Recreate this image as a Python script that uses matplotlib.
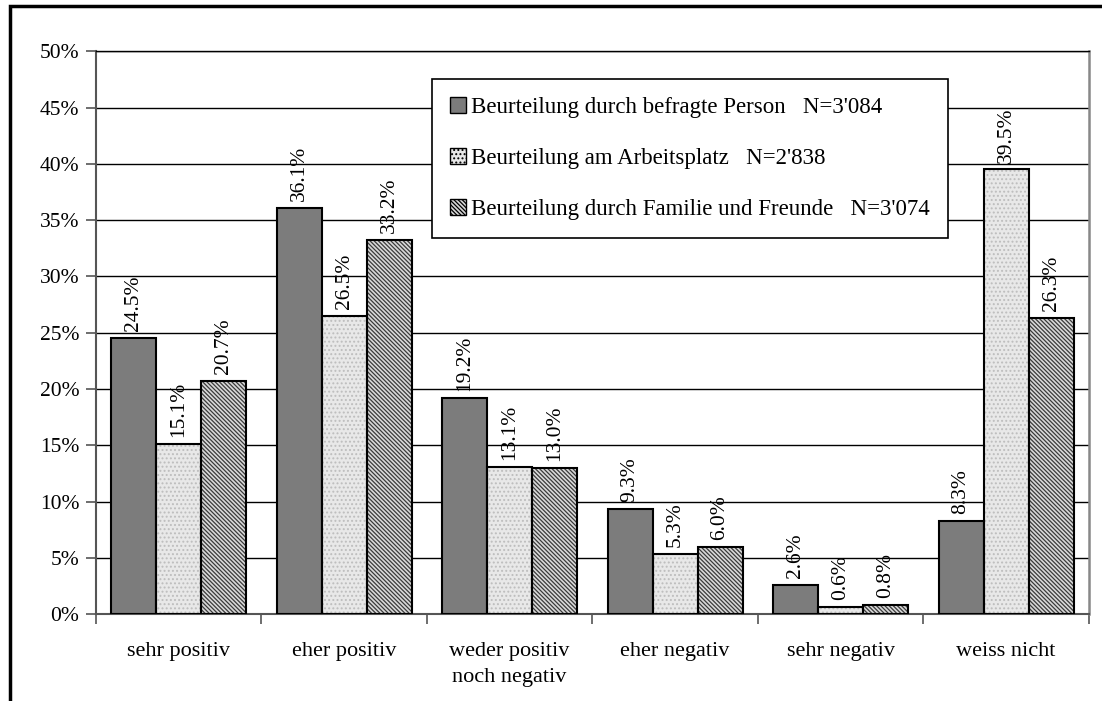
import matplotlib.pyplot as plt
import numpy as np
from matplotlib.patches import Rectangle, Patch

# categories and series values (percent)
categories = ['sehr positiv', 'eher positiv', 'weder positiv\nnoch negativ',
              'eher negativ', 'sehr negativ', 'weiss nicht']
befragte = [24.5, 36.1, 19.2, 9.3, 2.6, 8.3]
arbeitsplatz = [15.1, 26.5, 13.1, 5.3, 0.6, 39.5]
familie = [20.7, 33.2, 13.0, 6.0, 0.8, 26.3]
series_labels = ["Beurteilung durch befragte Person   N=3'084",
                 "Beurteilung am Arbeitsplatz   N=2'838",
                 "Beurteilung durch Familie und Freunde   N=3'074"]

plt.rcParams['font.family'] = ['Liberation Serif', 'DejaVu Serif']
plt.rcParams['hatch.linewidth'] = 0.9

fig = plt.figure(figsize=(11.02, 7.01), dpi=100)
ax = fig.add_axes([0.0871, 0.124, 0.9009, 0.8028])

x = np.arange(len(categories))
w = 0.272
styles = [
    dict(color='#7c7c7c', hatch=None, hcol=None),
    dict(color='#e8e8e8', hatch='....', hcol='#bdbdbd'),
    dict(color='#d8d8d8', hatch='\\\\\\\\\\\\\\\\', hcol='#3a3a3a'),
]
handles = []
for i, (vals, st) in enumerate(zip([befragte, arbeitsplatz, familie], styles)):
    pos = x + (i - 1) * w
    if st['hatch']:
        ax.bar(pos, vals, w, color=st['color'], hatch=st['hatch'],
               edgecolor=st['hcol'], linewidth=0, zorder=2)
    else:
        ax.bar(pos, vals, w, color=st['color'], linewidth=0, zorder=2)
    ax.bar(pos, vals, w, fill=False, edgecolor='black', linewidth=1.5, zorder=3)
    for p, v in zip(pos, vals):
        ax.annotate(f'{v:.1f}%', (p, v), xytext=(0, 5), textcoords='offset points',
                    ha='center', va='bottom', rotation=90, fontsize=15.5)
    handles.append(Patch(facecolor=st['color'], hatch=st['hatch'],
                         edgecolor='black', linewidth=1.0))

ax.set_xlim(-0.5, len(categories) - 0.5)
ax.set_ylim(0, 50)
ax.set_yticks(np.arange(0, 51, 5))
ax.set_yticklabels([f'{t}%' for t in range(0, 51, 5)], fontsize=15.5)
ax.yaxis.grid(True, color='black', linewidth=1.0, zorder=0)
ax.set_axisbelow(True)

ax.set_xticks(x)
ax.set_xticklabels(categories, fontsize=16, linespacing=1.5)
ax.set_xticks(np.arange(-0.5, len(categories)), minor=True)
ax.tick_params(axis='x', which='major', length=0, pad=20)
ax.tick_params(axis='x', which='minor', length=7, width=1.2, color='#555555')
ax.tick_params(axis='y', length=7, width=1.2, color='#555555', pad=5)

for s in ['left', 'bottom']:
    ax.spines[s].set_color('#555555')
    ax.spines[s].set_linewidth(1.5)
ax.spines['right'].set_color('#888888')
ax.spines['right'].set_linewidth(1.8)
ax.spines['top'].set_color('black')
ax.spines['top'].set_linewidth(1.0)

leg = ax.legend(handles, series_labels, loc='upper left', bbox_to_anchor=(0.338, 0.951),
                fontsize=16.5, frameon=True, fancybox=False, edgecolor='black',
                framealpha=1, handlelength=0.7, handleheight=0.7,
                handletextpad=0.2, labelspacing=1.3, borderpad=0.8,
                borderaxespad=0)
leg.get_frame().set_linewidth(1.2)

# outer frame of the chart area
fig.patches.append(Rectangle((10 / 1102, -0.05), 1.2, 1.05 - 6 / 701,
                             transform=fig.transFigure, fill=False,
                             edgecolor='black', linewidth=2.5))

fig.savefig('out.png', dpi=100)
